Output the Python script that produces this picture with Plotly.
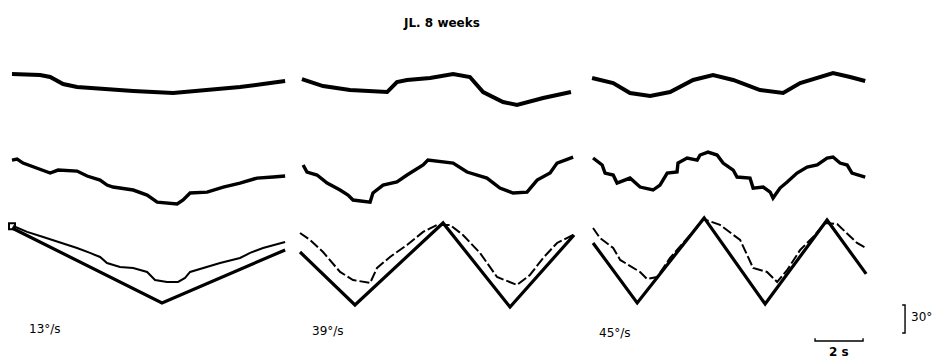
import plotly.graph_objects as go

# ---- scale: seconds on x, degrees on y ----
PX_PER_S = 24.0
DEG_PER_PX = 30.0 / 28.0
X_MAX = 932 / PX_PER_S
Y_MIN = -358 * DEG_PER_PX

PANEL_T0 = [0.42, 12.5, 24.67]          # start time of each panel (s)
ROW_OFF = [-91.1, -192.9, -283.9]       # baseline of each row (deg)
PANEL_LABELS = ["13°/s", "39°/s", "45°/s"]

# ---------------- Panel 1 (13 deg/s) ----------------
p1_top_t = [0.08, 0.71, 1.25, 1.67, 2.0, 2.21, 2.79, 3.75, 5.13, 6.79, 8.21, 9.58, 10.54, 11.46]
p1_top_a = [11.8, 10.7, 10.7, 8.6, 4.3, 1.1, -2.1, -4.3, -6.4, -8.6, -5.4, -2.1, 1.1, 4.3]

p1_mid_t = [0.08, 0.29, 0.54, 0.96, 1.67, 2.0, 2.79, 3.21, 3.75, 4.04, 4.29, 5.13, 5.71, 6.13,
            6.96, 7.21, 7.5, 8.21, 8.88, 9.58, 10.29, 10.96, 11.46]
p1_mid_a = [21.4, 22.5, 18.2, 13.9, 7.5, 10.7, 9.6, 4.3, 0, -5.4, -7.5, -10.7, -16.1, -23.6,
            -25.7, -21.4, -13.9, -12.9, -7.5, -3.2, 2.1, 3.2, 4.3]

p1_stim_t = [0.08, 6.33, 11.46]
p1_stim_a = [39.6, -40.7, 16.1]

p1_resp_t = [0.13, 0.71, 1.38, 1.79, 2.38, 2.79, 3.33, 3.75, 4.04, 4.58, 5.13, 5.71, 6.04, 6.54,
             7.0, 7.29, 7.5, 8.04, 8.75, 9.58, 10.0, 10.54, 11.46]
p1_resp_a = [41.8, 35.4, 30.0, 26.8, 21.4, 18.2, 12.9, 8.6, 2.1, -2.1, -3.2, -7.5, -16.1, -18.2,
             -18.2, -13.9, -7.5, -3.2, 2.1, 7.5, 12.9, 18.2, 24.6]

# ---------------- Panel 2 (39 deg/s) ----------------
p2_top_t = [0.08, 0.96, 2.08, 3.63, 4.04, 4.46, 5.42, 6.38, 7.08, 7.63, 8.46, 9.04, 10.13, 11.29]
p2_top_a = [6.4, -1.1, -5.4, -7.5, 3.2, 5.4, 7.5, 11.8, 8.6, -7.5, -18.2, -21.4, -13.9, -7.5]

p2_mid_t = [0.13, 0.29, 0.71, 1.13, 1.67, 2.0, 2.21, 2.92, 3.04, 3.46, 4.04, 4.46, 5.13, 5.33,
            6.38, 6.96, 7.79, 8.33, 8.88, 9.46, 9.88, 10.42, 10.71, 11.38]
p2_mid_a = [16.1, 8.6, 5.4, -3.2, -10.7, -16.1, -21.4, -23.6, -13.9, -5.4, -2.1, 5.4, 16.1, 21.4,
            18.2, 8.6, 2.1, -8.6, -13.9, -12.9, 0, 7.5, 18.2, 24.6]

p2_stim_t = [0.0, 2.29, 5.96, 8.75, 11.42]
p2_stim_a = [13.9, -42.9, 45.0, -45.0, 32.1]

p2_resp_t = [0.0, 0.42, 0.96, 1.67, 2.21, 2.92, 3.21, 3.75, 4.46, 5.13, 5.71, 6.25, 6.79, 7.5,
             8.21, 9.04, 9.58, 10.13, 10.71, 11.38]
p2_resp_a = [34.3, 26.8, 13.9, -7.5, -16.1, -19.3, -3.2, 8.6, 21.4, 35.4, 42.9, 42.9, 32.1, 12.9,
             -12.9, -21.4, -10.7, 7.5, 23.6, 32.1]

# ---------------- Panel 3 (45 deg/s) ----------------
p3_top_t = [0.0, 0.88, 1.58, 2.42, 3.25, 4.21, 5.04, 5.88, 7.0, 7.96, 8.67, 10.04, 10.75, 11.38]
p3_top_a = [7.5, 2.1, -8.6, -11.8, -7.5, 5.4, 10.7, 5.4, -5.4, -8.6, 2.1, 12.9, 8.6, 4.3]

p3_mid_t = [0.04, 0.42, 0.54, 0.88, 1.04, 1.58, 2.0, 2.54, 2.83, 3.13, 3.54, 3.58, 3.96, 4.38,
            4.5, 4.83, 5.21, 5.46, 5.88, 6.04, 6.58, 6.71, 7.13, 7.42, 7.54, 7.83, 8.13, 8.54,
            8.96, 9.38, 9.79, 10.04, 10.33, 10.63, 10.83, 11.38]
p3_mid_a = [23.6, 16.1, 7.5, 5.4, -3.2, 2.1, -7.5, -10.7, -5.4, 7.5, 8.6, 18.2, 23.6, 21.4,
            26.8, 30.0, 26.8, 18.2, 10.7, 3.2, 2.1, -8.6, -7.5, -12.9, -19.3, -8.6, -2.1, 7.5,
            13.9, 16.1, 23.6, 24.6, 18.2, 16.1, 7.5, 3.2]

p3_stim_t = [0.04, 1.88, 4.67, 7.21, 9.79, 11.42]
p3_stim_a = [23.6, -40.7, 50.4, -41.8, 48.2, -9.6]

p3_resp_t = [0.04, 0.33, 0.88, 1.17, 2.0, 2.29, 2.71, 3.25, 3.79, 4.21, 4.63, 5.33, 6.17, 6.71,
             7.29, 7.71, 8.13, 8.67, 9.21, 9.71, 10.21, 10.63, 11.04, 11.42]
p3_resp_a = [39.6, 28.9, 18.2, 5.4, -7.5, -15.0, -12.9, 7.5, 23.6, 35.4, 49.3, 42.9, 26.8, -3.2,
             -7.5, -18.2, -5.4, 16.1, 30.0, 45.0, 43.9, 33.2, 23.6, 18.2]

# scale bars
TIME_BAR_T0, TIME_BAR_LEN = 33.96, 2.0
TIME_BAR_Y = -365.4
ANGLE_BAR_T, ANGLE_BAR_Y0, ANGLE_BAR_LEN = 37.71, -356.8, 30.0

panels = [
    (p1_top_t, p1_top_a, p1_mid_t, p1_mid_a, p1_stim_t, p1_stim_a, p1_resp_t, p1_resp_a, "solid"),
    (p2_top_t, p2_top_a, p2_mid_t, p2_mid_a, p2_stim_t, p2_stim_a, p2_resp_t, p2_resp_a, "10px,3px"),
    (p3_top_t, p3_top_a, p3_mid_t, p3_mid_a, p3_stim_t, p3_stim_a, p3_resp_t, p3_resp_a, "10px,3px"),
]

fig = go.Figure()


def add(t, a, t0, off, width, dash="solid"):
    fig.add_trace(go.Scatter(
        x=[t0 + v for v in t], y=[off + v for v in a], mode="lines",
        line=dict(color="black", width=width, dash=dash), hoverinfo="skip"))


for i, (tt, ta, mt, ma, st, sa, rt, ra, rdash) in enumerate(panels):
    t0 = PANEL_T0[i]
    add(tt, ta, t0, ROW_OFF[0], 4.0)
    add(mt, ma, t0, ROW_OFF[1], 3.4)
    add(st, sa, t0, ROW_OFF[2], 3.2)
    add(rt, ra, t0, ROW_OFF[2], 2.0, rdash)

# start marker of first stimulus
fig.add_trace(go.Scatter(x=[PANEL_T0[0] + p1_stim_t[0]], y=[ROW_OFF[2] + p1_stim_a[0] + 2],
                         mode="markers", marker=dict(symbol="square-open", size=6,
                                                     color="black", line=dict(width=2)),
                         hoverinfo="skip"))

# time scale bar (2 s)
tick = 3.0
fig.add_trace(go.Scatter(
    x=[TIME_BAR_T0, TIME_BAR_T0, TIME_BAR_T0 + TIME_BAR_LEN, TIME_BAR_T0 + TIME_BAR_LEN],
    y=[TIME_BAR_Y + tick, TIME_BAR_Y, TIME_BAR_Y, TIME_BAR_Y + tick],
    mode="lines", line=dict(color="black", width=1.4), hoverinfo="skip"))
# angle scale bar (30 deg)
fig.add_trace(go.Scatter(
    x=[ANGLE_BAR_T - 0.12, ANGLE_BAR_T, ANGLE_BAR_T, ANGLE_BAR_T - 0.12],
    y=[ANGLE_BAR_Y0, ANGLE_BAR_Y0, ANGLE_BAR_Y0 + ANGLE_BAR_LEN, ANGLE_BAR_Y0 + ANGLE_BAR_LEN],
    mode="lines", line=dict(color="black", width=1.4), hoverinfo="skip"))

FONT = dict(family="DejaVu Sans", size=12, color="black")
annotations = [
    dict(text="<b>JL. 8 weeks</b>", x=441 / 932, y=1 - 14 / 358, xref="paper", yref="paper",
         showarrow=False, font=dict(family="DejaVu Sans", size=12, color="black")),
    dict(text="<b>2 s</b>", x=TIME_BAR_T0 + TIME_BAR_LEN / 2, y=TIME_BAR_Y - 12, xref="x", yref="y",
         showarrow=False, font=dict(family="DejaVu Sans", size=12, color="black")),
    dict(text="30°", x=ANGLE_BAR_T + 0.15, y=ANGLE_BAR_Y0 + ANGLE_BAR_LEN / 2 + 2, xref="x", yref="y",
         xanchor="left", showarrow=False, font=FONT),
]
label_dx = [0.7, 0.4, 0.2]
label_dy = [-352.5, -354.6, -356.8]
for i, lab in enumerate(PANEL_LABELS):
    annotations.append(dict(text=lab, x=PANEL_T0[i] + label_dx[i], y=label_dy[i], xref="x", yref="y",
                            xanchor="left", showarrow=False, font=FONT))

fig.update_layout(
    width=932, height=358, margin=dict(l=0, r=0, t=0, b=0),
    paper_bgcolor="white", plot_bgcolor="white", showlegend=False,
    xaxis=dict(range=[0, X_MAX], visible=False, fixedrange=True),
    yaxis=dict(range=[Y_MIN, 0], visible=False, fixedrange=True),
    annotations=annotations,
)

fig.write_html("out.html")
